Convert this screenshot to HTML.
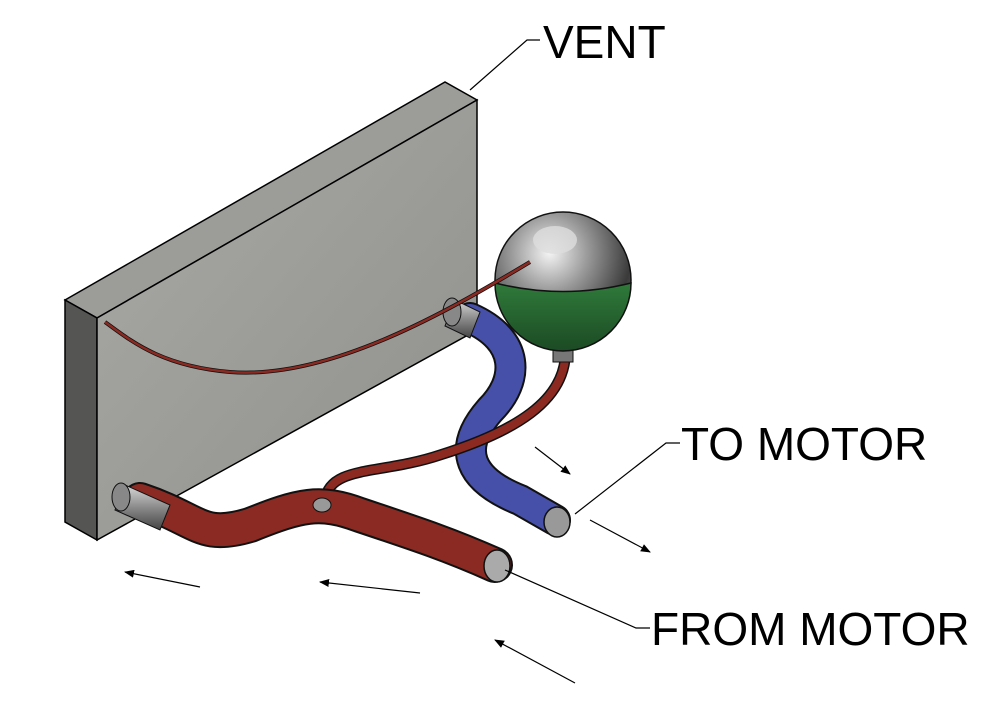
<!DOCTYPE html>
<html><head><style>
html,body{margin:0;padding:0;background:#fff;}
svg{display:block;}
text{font-family:"Liberation Sans",sans-serif;fill:#000;}
</style></head><body>
<svg width="1000" height="702" viewBox="0 0 1000 702" xmlns="http://www.w3.org/2000/svg">
<defs>
<linearGradient id="front" x1="0" y1="0" x2="1" y2="1">
<stop offset="0" stop-color="#a9a9a5"/><stop offset="1" stop-color="#8f8f8c"/></linearGradient>
<radialGradient id="sph" cx="0.4" cy="0.3" r="0.8">
<stop offset="0" stop-color="#f4f4f4"/><stop offset="0.35" stop-color="#9a9a9a"/><stop offset="0.75" stop-color="#3a3a3a"/><stop offset="1" stop-color="#777"/></radialGradient>
<linearGradient id="grn" x1="0" y1="0" x2="0" y2="1">
<stop offset="0" stop-color="#2f7a3a"/><stop offset="1" stop-color="#1c4a24"/></linearGradient>
<linearGradient id="cyl" x1="0" y1="0" x2="0" y2="1">
<stop offset="0" stop-color="#d8d8d8"/><stop offset="0.5" stop-color="#8a8a8a"/><stop offset="1" stop-color="#444"/></linearGradient>
<marker id="ah" markerWidth="10" markerHeight="8" refX="9" refY="4" orient="auto" markerUnits="userSpaceOnUse">
<path d="M0,0 L10,4 L0,8 Z" fill="#000"/></marker>
</defs>

<polygon points="65,300 445,82 477,100 97,318" fill="#9c9c99" stroke="#000" stroke-width="1.5"/>
<polygon points="65,300 97,318 97,540 65,522" fill="#555553" stroke="#000" stroke-width="1.5"/>
<polygon points="97,318 477,100 477,330 97,540" fill="url(#front)" stroke="#000" stroke-width="1.5"/>

<path d="M470,318 C520,340 520,380 490,410 C455,450 470,480 520,500 L555,520" fill="none" stroke="#111" stroke-width="32" stroke-linecap="round"/>
<path d="M470,318 C520,340 520,380 490,410 C455,450 470,480 520,500 L555,520" fill="none" stroke="#4750a8" stroke-width="28" stroke-linecap="round"/>
<ellipse cx="557" cy="522" rx="13" ry="15" fill="#999" stroke="#111" stroke-width="1.5"/>
<path d="M455,300 L480,312 L470,338 L445,326 Z" fill="url(#cyl)" stroke="#111"/>
<ellipse cx="452" cy="312" rx="9" ry="14" fill="#888" stroke="#111"/>

<path d="M565,360 C560,400 520,430 440,455 C380,475 330,465 325,500" fill="none" stroke="#111" stroke-width="11"/>
<path d="M565,360 C560,400 520,430 440,455 C380,475 330,465 325,500" fill="none" stroke="#8c2a22" stroke-width="8"/>

<path d="M140,500 C200,520 200,540 250,525 C300,505 320,500 360,515 C420,535 450,545 495,565" fill="none" stroke="#111" stroke-width="36" stroke-linecap="round"/>
<path d="M140,500 C200,520 200,540 250,525 C300,505 320,500 360,515 C420,535 450,545 495,565" fill="none" stroke="#8a2a22" stroke-width="32" stroke-linecap="round"/>
<ellipse cx="497" cy="566" rx="13" ry="16" fill="#aaa" stroke="#111" stroke-width="1.5"/>
<path d="M125,485 L170,505 L160,530 L115,510 Z" fill="url(#cyl)" stroke="#111"/>
<ellipse cx="121" cy="497" rx="9" ry="14" fill="#888" stroke="#111"/>
<ellipse cx="322" cy="505" rx="9" ry="7" fill="#999" stroke="#111"/>

<rect x="553" y="340" width="20" height="22" fill="#777" stroke="#111"/>
<circle cx="563" cy="280" r="68" fill="url(#sph)" stroke="#111" stroke-width="1.5"/>
<path d="M495,283 Q563,300 631,283 A68,68 0 0 1 495,283 Z" fill="url(#grn)" stroke="#111" stroke-width="1.5"/>
<ellipse cx="555" cy="240" rx="22" ry="14" fill="#ddd" opacity="0.8"/>

<path d="M530,262 C450,310 330,380 230,372 C160,366 130,340 105,322" fill="none" stroke="#111" stroke-width="4"/>
<path d="M530,262 C450,310 330,380 230,372 C160,366 130,340 105,322" fill="none" stroke="#8c2a22" stroke-width="2.5"/>

<g stroke="#000" stroke-width="1.2" fill="none">
<polyline points="540,40 527,40 470,90"/>
<polyline points="680,443 666,443 575,514"/>
<polyline points="650,628 636,628 505,570"/>
</g>
<g stroke="#000" stroke-width="1.2" marker-end="url(#ah)">
<line x1="535" y1="447" x2="570" y2="474"/>
<line x1="590" y1="520" x2="650" y2="552"/>
<line x1="200" y1="587" x2="125" y2="572"/>
<line x1="420" y1="593" x2="320" y2="582"/>
<line x1="575" y1="683" x2="495" y2="640"/>
</g>

<text x="543" y="58" font-size="46">VENT</text>
<text x="681" y="460" font-size="46">TO MOTOR</text>
<text x="651" y="645" font-size="46">FROM MOTOR</text>
</svg>
</body></html>
